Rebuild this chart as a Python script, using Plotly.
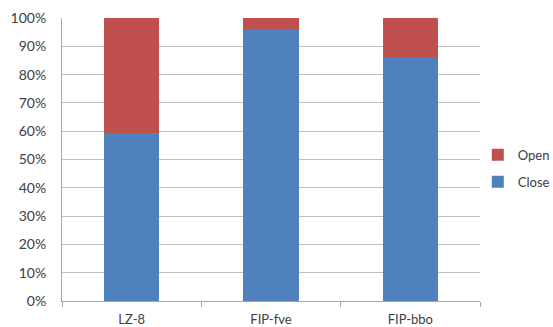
import plotly.graph_objects as go

categories = ["LZ-8", "FIP-fve", "FIP-bbo"]
close_pct = [59.4, 96.1, 86.3]
open_pct = [40.6, 3.9, 13.7]
y_ticks = [0, 10, 20, 30, 40, 50, 60, 70, 80, 90, 100]
y_tick_labels = [f"{v}%" for v in y_ticks]

fig = go.Figure()
fig.add_trace(go.Bar(x=categories, y=close_pct, name="Close", legendgroup="close",
                     legendrank=2,
                     marker=dict(color="#4F81BD", line=dict(width=0))))
fig.add_trace(go.Bar(x=categories, y=open_pct, name="Open", legendgroup="open",
                     legendrank=1,
                     marker=dict(color="#C0504D", line=dict(width=0))))

fig.update_layout(
    width=553, height=327,
    margin=dict(l=62, r=73, t=18, b=26, autoexpand=False),
    barmode="stack",
    bargap=0.605,
    paper_bgcolor="white",
    plot_bgcolor="white",
    font=dict(family="Lato, Open Sans, sans-serif", color="#404040", size=13),
    showlegend=True,
    legend=dict(
        traceorder="grouped",
        xref="container", yref="container",
        x=0.864, y=0.485, xanchor="left", yanchor="middle",
        font=dict(size=13, color="#404040"),
        itemwidth=30,
        tracegroupgap=7,
        bgcolor="rgba(0,0,0,0)",
    ),
    xaxis=dict(
        showline=True, linecolor="#A6A6A6", linewidth=1,
        ticks="outside", tickson="boundaries", ticklen=5, tickcolor="#A6A6A6",
        tickfont=dict(size=13, color="#404040"),
        ticklabelstandoff=6,
        showgrid=False, automargin=False,
    ),
    yaxis=dict(
        range=[0, 100],
        tickvals=y_ticks, ticktext=y_tick_labels,
        showline=True, linecolor="#A6A6A6", linewidth=1,
        showgrid=True, gridcolor="#BFBFBF", gridwidth=1,
        ticks="", ticklabelstandoff=12,
        tickfont=dict(size=14, color="#404040"),
        zeroline=False, automargin=False,
    ),
)

fig.write_html("out.html")
